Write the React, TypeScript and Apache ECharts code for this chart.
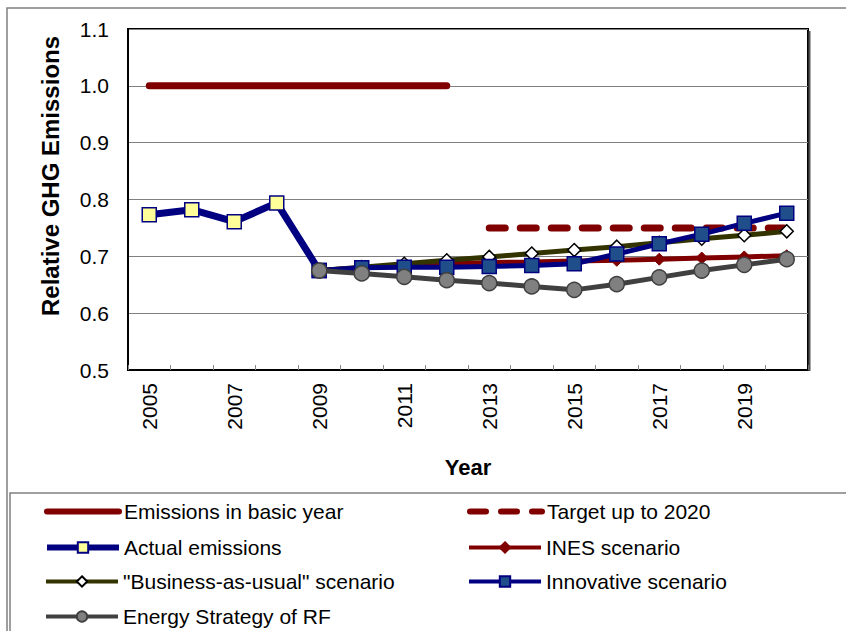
import React, { useEffect, useRef } from "react";
import * as echarts from "echarts";

const years = ["2005","2006","2007","2008","2009","2010","2011","2012","2013","2014","2015","2016","2017","2018","2019","2020"];
const basicYear = [1, 1, 1, 1, 1, 1, 1, 1, "-", "-", "-", "-", "-", "-", "-", "-"];
const target2020 = ["-", "-", "-", "-", "-", "-", "-", "-", 0.75, 0.75, 0.75, 0.75, 0.75, 0.75, 0.75, 0.75];
const actual = [0.773, 0.782, 0.761, 0.794, 0.675, "-", "-", "-", "-", "-", "-", "-", "-", "-", "-", "-"];
const ines = ["-", "-", "-", "-", 0.675, 0.680, 0.684, 0.687, 0.689, 0.690, 0.692, 0.693, 0.695, 0.697, 0.699, 0.701];
const bau = ["-", "-", "-", "-", 0.675, 0.681, 0.687, 0.693, 0.699, 0.705, 0.711, 0.717, 0.724, 0.731, 0.737, 0.744];
const innovative = ["-", "-", "-", "-", 0.675, 0.680, 0.681, 0.681, 0.682, 0.684, 0.687, 0.704, 0.722, 0.739, 0.758, 0.776];
const energyStrategy = ["-", "-", "-", "-", 0.675, 0.670, 0.664, 0.658, 0.653, 0.647, 0.641, 0.651, 0.663, 0.675, 0.685, 0.695];

const names = [
  "Emissions in basic year",
  "Target up to 2020",
  "Actual emissions",
  "INES scenario",
  "\"Business-as-usual\" scenario",
  "Innovative scenario",
  "Energy Strategy of RF",
];

const FONT = "Arial, 'Liberation Sans', sans-serif";

export default function App() {
  const ref = useRef<HTMLDivElement>(null);
  useEffect(() => {
    if (!ref.current) return;
    const chart = echarts.init(ref.current, undefined, { renderer: "svg" });
    const legendPos = [
      [44, 501], [467, 501],
      [44, 537], [467, 537],
      [44, 571], [467, 571],
      [44, 606],
    ];
    const legendLineW = [6, 6, 6, 4, 4, 4, 4];
    const legends = names.map((n, i) => ({
      data: [n],
      left: legendPos[i][0],
      top: legendPos[i][1],
      padding: 0,
      itemWidth: 72,
      itemHeight: 13,
      itemGap: 4,
      lineStyle: { width: legendLineW[i] },
      itemStyle: i < 2 ? { opacity: 0 } : {},
      textStyle: { fontSize: 21, color: "#000", fontFamily: FONT },
      selectedMode: false,
    }));
    chart.setOption({
      animation: false,
      backgroundColor: "#fff",
      legend: legends,
      grid: {
        left: 128, top: 29, width: 680, height: 341,
        show: true, borderColor: "#000", borderWidth: 2, backgroundColor: "transparent",
      },
      graphic: [
        { type: "rect", shape: { x: 7, y: 8, width: 850, height: 640 }, style: { fill: "none", stroke: "#808080", lineWidth: 1.5 }, z: -10 },
        { type: "rect", shape: { x: 10, y: 493, width: 850, height: 150 }, style: { fill: "none", stroke: "#808080", lineWidth: 1.5 }, z: -10 },
        { type: "line", shape: { x1: 809.5, y1: 31, x2: 809.5, y2: 371 }, style: { stroke: "#555", lineWidth: 2 }, z: 10 },
      ],
      xAxis: {
        type: "category",
        data: years,
        boundaryGap: true,
        name: "Year",
        nameLocation: "middle",
        nameGap: 86,
        nameTextStyle: { fontSize: 22, fontWeight: "bold", color: "#000", fontFamily: FONT },
        axisLine: { lineStyle: { color: "#000", width: 2 } },
        axisTick: { show: true, inside: true, length: 5, interval: 0, lineStyle: { color: "#888" } },
        axisLabel: { rotate: 90, interval: 1, margin: 13, fontSize: 21, color: "#000", fontFamily: FONT },
        splitLine: { show: false },
      },
      yAxis: {
        type: "value",
        min: 0.5, max: 1.1, interval: 0.1,
        name: "Relative GHG Emissions",
        nameLocation: "middle",
        nameGap: 66,
        nameTextStyle: { fontSize: 24, fontWeight: "bold", color: "#000", fontFamily: FONT, padding: [0, 0, 0, 47] },
        axisLine: { show: true, lineStyle: { color: "#000", width: 2 } },
        axisTick: { show: false },
        axisLabel: { margin: 19, fontSize: 21, color: "#000", fontFamily: FONT, formatter: (v: number) => v.toFixed(1) },
        splitLine: { show: true, lineStyle: { color: "#808080", width: 1 } },
      },
      series: [
        {
          name: names[0], type: "line", data: basicYear, symbol: "none",
          lineStyle: { color: "#800000", width: 7, cap: "round" }, itemStyle: { color: "#800000" },
        },
        {
          name: names[1], type: "line", data: target2020, symbol: "none",
          lineStyle: { color: "#800000", width: 7, type: [16, 15], cap: "round" }, itemStyle: { color: "#800000" },
        },
        {
          name: names[2], type: "line", data: actual, symbol: "rect", symbolSize: 14,
          lineStyle: { color: "#000080", width: 7 },
          itemStyle: { color: "#FFFF99", borderColor: "#000080", borderWidth: 1.5 },
        },
        {
          name: names[3], type: "line", data: ines, symbol: "diamond", symbolSize: 12,
          lineStyle: { color: "#800000", width: 5 },
          itemStyle: { color: "#800000", borderColor: "#800000", borderWidth: 1 },
        },
        {
          name: names[4], type: "line", data: bau, symbol: "diamond", symbolSize: 13,
          lineStyle: { color: "#333300", width: 5 },
          itemStyle: { color: "#ffffff", borderColor: "#000000", borderWidth: 1.5 },
        },
        {
          name: names[5], type: "line", data: innovative, symbol: "rect", symbolSize: 14,
          lineStyle: { color: "#000080", width: 5 },
          itemStyle: { color: "#1F4E8A", borderColor: "#000080", borderWidth: 1.5 },
        },
        {
          name: names[6], type: "line", data: energyStrategy, symbol: "circle", symbolSize: 15,
          lineStyle: { color: "#404040", width: 5 },
          itemStyle: { color: "#808080", borderColor: "#404040", borderWidth: 1.5 },
        },
      ],
    });
    return () => chart.dispose();
  }, []);
  return (
    <div
      ref={ref}
      style={{ position: "fixed", left: 0, top: 0, width: 846, height: 631, background: "#fff" }}
    />
  );
}
